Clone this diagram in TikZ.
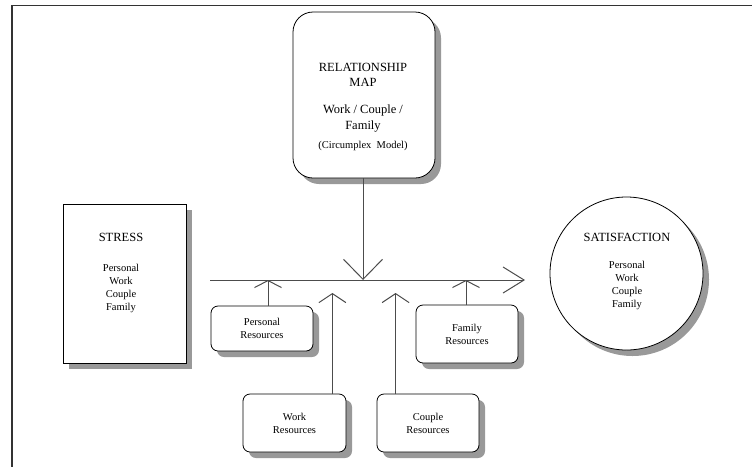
\documentclass[tikz,border=0pt]{standalone}
\usepackage{fontspec}
\setmainfont{Liberation Serif}
\usetikzlibrary{arrows.meta,shadows}

\begin{document}
\begin{tikzpicture}[x=1pt,y=-1pt,
  conn/.style={draw=black!70,line width=1pt},
  shade/.style={drop shadow={shadow xshift=6pt,shadow yshift=-6pt,fill=black!40,opacity=1}},
  resbox/.style={draw,fill=white,shade,rounded corners=7pt,line width=0.8pt,align=center,
    inner sep=0pt,minimum width=102,font=\fontsize{10.5}{13}\selectfont},
  big/.style={font=\fontsize{12.5}{15}\selectfont,align=center,inner sep=0pt},
  small/.style={font=\fontsize{10.5}{13}\selectfont,align=center,inner sep=0pt}]
\useasboundingbox (0,0) rectangle (752,467);
% frame
\draw[line width=1.3pt,black!80] (752,5.5) -- (12,5.5) -- (12,467);

% relationship map
\node[draw,fill=white,shade,rounded corners=20pt,line width=0.8pt,minimum width=142,minimum height=166,inner sep=0pt] (relmap) at (364,95) {};
\node[big] (reltitle) at (363,74.5) {RELATIONSHIP\\MAP};
\node[big,font=\fontsize{12.5}{16}\selectfont] (relsub) at (363,119) {Work / Couple /\\Family};
\node[small] (relmodel) at (363,146) {(Circumplex\ \ Model)};

% stress
\node[draw,fill=white,shade,line width=0.8pt,minimum width=123,minimum height=159,inner sep=0pt] (stress) at (124.5,283.5) {};
\node[big] (stresstitle) at (121,237) {STRESS};
\node[small] (stresslist) at (121,288.5) {Personal\\Work\\Couple\\Family};

% satisfaction
\node[draw,fill=white,shade,circle,line width=0.8pt,minimum size=153,inner sep=0pt] (satis) at (626.5,273.5) {};
\node[big] (satistitle) at (627,237) {SATISFACTION};
\node[small] (satislist) at (627,285.5) {Personal\\Work\\Couple\\Family};

% resources
\node[resbox,minimum height=45] (personal) at (262,328.5) {Personal\\Resources};
\node[resbox,minimum height=58] (family) at (467,334) {Family\\Resources};
\node[resbox,minimum width=103,minimum height=58] (work) at (294.5,423) {Work\\Resources};
\node[resbox,minimum height=58] (couple) at (428,423) {Couple\\Resources};

% main line
\coordinate (hl) at (210,280);
\coordinate (hr) at (525,280);
\draw[conn,-{Straight Barb[length=21pt,width=26pt]}] (hl) -- (hr);
\draw[conn,-{Straight Barb[length=20pt,width=39pt]}] (relmap.south -| 363,0) -- (363,0 |- hl);

\draw[conn,-{Straight Barb[length=7pt,width=27pt]}] ([xshift=6]personal.north) -- ([xshift=6]personal.north |- hl);
\draw[conn,-{Straight Barb[length=7pt,width=27pt]}] ([xshift=-1]family.north) -- ([xshift=-1]family.north |- hl);
\draw[conn,-{Straight Barb[length=9pt,width=27pt]}] ([xshift=-14]work.north east) -- ([xshift=-14,yshift=-13]work.north east |- hl);
\draw[conn,-{Straight Barb[length=9pt,width=27pt]}] ([xshift=19]couple.north west) -- ([xshift=19,yshift=-13]couple.north west |- hl);
\end{tikzpicture}
\end{document}
